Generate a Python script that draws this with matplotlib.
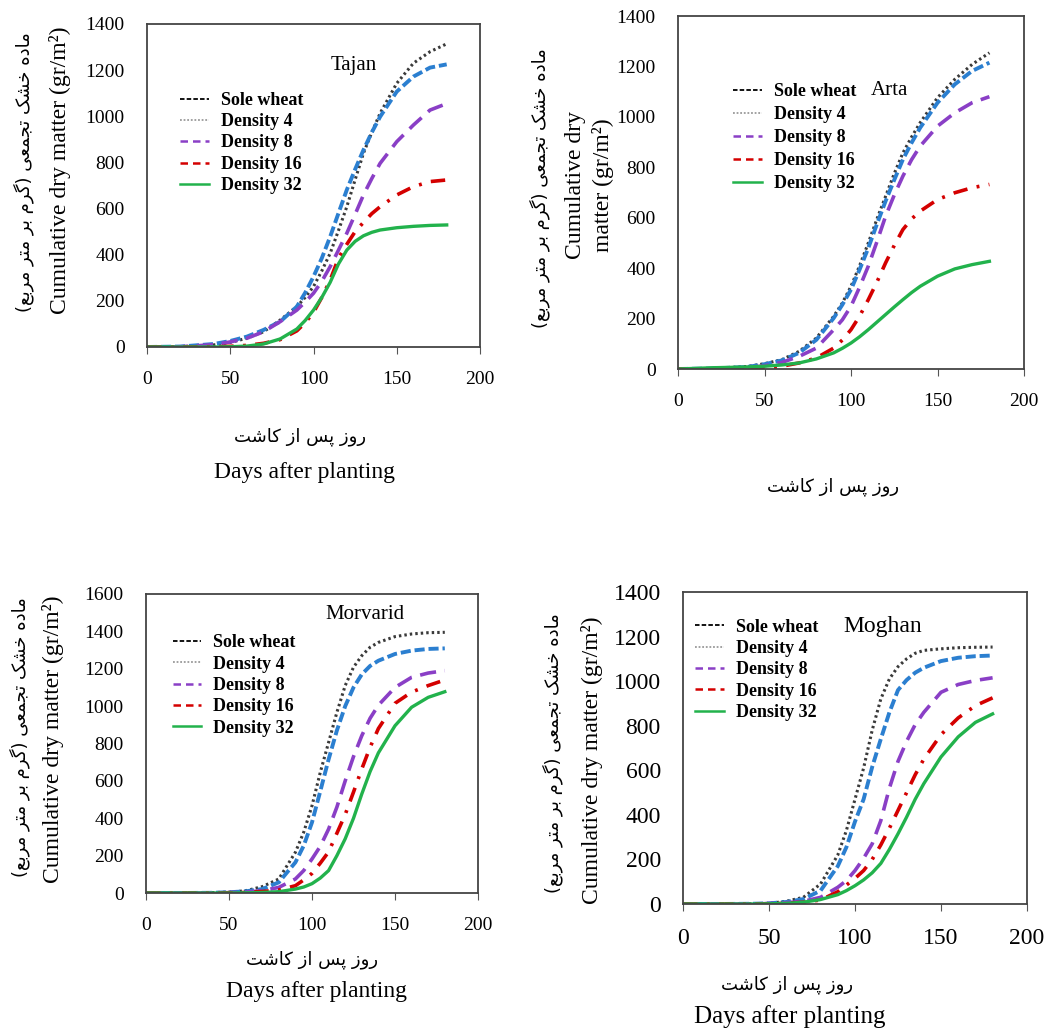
import numpy as np
import matplotlib.pyplot as plt
from matplotlib.lines import Line2D

plt.rcParams['font.family'] = 'Liberation Serif'

# days after planting at which curves were read
days = [0, 20, 40, 50, 60, 70, 80, 90, 95, 100, 105, 110, 115, 120, 125, 130, 135, 140, 150, 160, 170, 180]

names = ['Sole wheat', 'Density 4', 'Density 8', 'Density 16', 'Density 32']

tajan_sole = [0, 1, 9, 20, 38, 66, 117, 175, 215, 262, 330, 406, 505, 608, 725, 840, 930, 1013, 1143, 1230, 1280, 1314]
tajan_d4 = [0, 2, 13, 26, 45, 74, 110, 175, 235, 305, 385, 478, 580, 681, 770, 854, 930, 998, 1107, 1172, 1211, 1225]
tajan_d8 = [0, 1, 10, 22, 38, 66, 110, 160, 195, 233, 285, 348, 420, 493, 575, 659, 730, 796, 890, 962, 1027, 1055]
tajan_d16 = [0, 0, 1, 3, 7, 16, 32, 70, 105, 150, 215, 290, 385, 445, 500, 540, 578, 608, 659, 695, 717, 724]
tajan_d32 = [0, 0, 0, 1, 4, 13, 35, 78, 115, 160, 215, 280, 360, 420, 458, 482, 497, 507, 517, 523, 527, 529]

arta_sole = [0, 2, 10, 21, 37, 70, 123, 209, 262, 328, 410, 500, 595, 685, 775, 857, 920, 977, 1076, 1149, 1208, 1254]
arta_d4 = [0, 2, 8, 19, 34, 64, 116, 202, 255, 315, 395, 480, 575, 666, 750, 831, 897, 957, 1056, 1129, 1182, 1215]
arta_d8 = [0, 1, 5, 13, 26, 50, 83, 156, 195, 249, 325, 408, 505, 606, 690, 765, 830, 884, 963, 1016, 1056, 1080]
arta_d16 = [0, 0, 1, 3, 11, 24, 44, 83, 115, 156, 210, 275, 345, 421, 490, 553, 595, 626, 672, 699, 719, 732]
arta_d32 = [0, 5, 8, 11, 16, 24, 40, 64, 82, 103, 128, 156, 186, 216, 246, 275, 303, 328, 368, 397, 414, 427]

morvarid_sole = [0, 0, 2, 5, 12, 34, 75, 218, 325, 467, 646, 806, 967, 1110, 1208, 1270, 1315, 1341, 1372, 1386, 1393, 1395]
morvarid_d4 = [0, 0, 1, 4, 9, 21, 57, 164, 253, 378, 545, 715, 870, 1000, 1100, 1170, 1215, 1243, 1279, 1297, 1306, 1309]
morvarid_d8 = [0, 0, 0, 2, 5, 12, 30, 75, 120, 182, 250, 342, 460, 600, 730, 842, 935, 1005, 1100, 1154, 1177, 1190]
morvarid_d16 = [0, 0, 0, 1, 3, 8, 16, 39, 70, 105, 160, 220, 320, 420, 540, 664, 780, 880, 1015, 1075, 1110, 1140]
morvarid_d32 = [0, 0, 0, 0, 1, 3, 7, 21, 32, 50, 80, 120, 200, 290, 400, 530, 650, 750, 895, 994, 1047, 1077]

moghan_sole = [0, 0, 1, 3, 12, 30, 90, 220, 330, 470, 610, 780, 920, 1010, 1065, 1100, 1125, 1138, 1145, 1150, 1152, 1153]
moghan_d4 = [0, 0, 1, 3, 9, 22, 60, 170, 255, 370, 470, 615, 740, 860, 960, 1005, 1038, 1060, 1090, 1105, 1112, 1115]
moghan_d8 = [0, 0, 0, 2, 6, 12, 30, 75, 105, 150, 205, 270, 374, 520, 640, 730, 805, 860, 950, 985, 1003, 1015]
moghan_d16 = [0, 0, 0, 1, 3, 8, 18, 55, 85, 115, 150, 200, 265, 340, 420, 500, 580, 650, 760, 835, 890, 925]
moghan_d32 = [0, 0, 0, 1, 3, 8, 20, 42, 60, 82, 108, 140, 182, 245, 315, 390, 470, 540, 660, 750, 815, 853]

fa_ylabel = 'ماده خشک تجمعی (گرم بر متر مربع)'
fa_xlabel = 'روز پس از کاشت'
en_xlabel = 'Days after planting'

# Persian letters -> (isolated, final, initial, medial); two forms = joins only on the right
FORMS = {
    'ا': ('\uFE8D', '\uFE8E'), 'د': ('\uFEA9', '\uFEAA'), 'ر': ('\uFEAD', '\uFEAE'),
    'ز': ('\uFEAF', '\uFEB0'), 'و': ('\uFEED', '\uFEEE'),
    'ب': ('\uFE8F', '\uFE90', '\uFE91', '\uFE92'), 'پ': ('\uFB56', '\uFB57', '\uFB58', '\uFB59'),
    'ت': ('\uFE95', '\uFE96', '\uFE97', '\uFE98'), 'ج': ('\uFE9D', '\uFE9E', '\uFE9F', '\uFEA0'),
    'خ': ('\uFEA5', '\uFEA6', '\uFEA7', '\uFEA8'), 'س': ('\uFEB1', '\uFEB2', '\uFEB3', '\uFEB4'),
    'ش': ('\uFEB5', '\uFEB6', '\uFEB7', '\uFEB8'), 'ع': ('\uFEC9', '\uFECA', '\uFECB', '\uFECC'),
    'ک': ('\uFB8E', '\uFB8F', '\uFB90', '\uFB91'), 'گ': ('\uFB92', '\uFB93', '\uFB94', '\uFB95'),
    'م': ('\uFEE1', '\uFEE2', '\uFEE3', '\uFEE4'), 'ه': ('\uFEE9', '\uFEEA', '\uFEEB', '\uFEEC'),
    'ی': ('\uFBFC', '\uFBFD', '\uFBFE', '\uFBFF'),
}


def shape_fa(text):
    out = []
    for i, c in enumerate(text):
        if c not in FORMS:
            out.append(c)
            continue
        prev = text[i - 1] if i > 0 else ''
        nxt = text[i + 1] if i + 1 < len(text) else ''
        jp = prev in FORMS and len(FORMS[prev]) == 4
        jn = nxt in FORMS and len(FORMS[c]) == 4
        f = FORMS[c]
        if jp and jn:
            out.append(f[3])
        elif jp:
            out.append(f[1])
        elif jn:
            out.append(f[2])
        else:
            out.append(f[0])
    s = ''.join(reversed(out))
    return s.translate(str.maketrans('()', ')('))


W, H = 1051, 1031
fig = plt.figure(figsize=(W / 100, H / 100), dpi=100)


def px(x, y):
    return x / W, 1 - y / H


styles = [
    dict(color='#3a3a3a', lw=2.2, dashes=(0.8, 1.0)),
    dict(color='#2b7fd0', lw=2.8, dashes=(2.6, 1.0)),
    dict(color='#8a3fc6', lw=2.6, dashes=(4.5, 2.4)),
    dict(color='#d40000', lw=2.6, dashes=(4.0, 2.6, 0.8, 2.6)),
    dict(color='#22b24c', lw=2.4, linestyle='-'),
]
leg_handles = [
    Line2D([], [], color='black', lw=1.3, dashes=(2.5, 1.2)),
    Line2D([], [], color='#9a9a9a', lw=1.3, dashes=(1, 1)),
    Line2D([], [], color='#8a3fc6', lw=1.8, dashes=(3, 2)),
    Line2D([], [], color='#d40000', lw=1.8, dashes=(3, 2)),
    Line2D([], [], color='#22b24c', lw=1.8),
]


def panel(box, series, ymax, title, title_xy, leg_xy, fs=14, tfs=15, lsp=0.24):
    l, t, r, b = box
    ax = fig.add_axes([l / W, 1 - b / H, (r - l) / W, (b - t) / H])
    for vals, st in zip(series, styles):
        ax.plot(days, vals, **st)
    ax.set_xlim(0, 200)
    ax.set_ylim(0, ymax)
    ax.set_xticks(range(0, 201, 50))
    ax.set_yticks(range(0, ymax + 1, 200))
    ax.tick_params(axis='x', direction='out', length=5, pad=12, labelsize=fs, color='#555555')
    ax.tick_params(axis='y', length=0, pad=16, labelsize=fs)
    for sp in ax.spines.values():
        sp.set_color('#444444')
        sp.set_linewidth(1.3)
    ax.text(title_xy[0], title_xy[1], title, transform=ax.transAxes, fontsize=tfs,
            ha='center', va='center')
    ax.legend(leg_handles, names, loc='upper left', bbox_to_anchor=leg_xy, frameon=False,
              prop=dict(family='Liberation Serif', weight='bold', size=13),
              handlelength=1.6, handletextpad=0.65, labelspacing=lsp, borderpad=0, borderaxespad=0)
    return ax


panel((147, 24, 480, 347), [tajan_sole, tajan_d4, tajan_d8, tajan_d16, tajan_d32], 1400,
      'Tajan', (0.62, 0.87), (0.10, 0.79))
panel((678, 16, 1024, 369), [arta_sole, arta_d4, arta_d8, arta_d16, arta_d32], 1400,
      'Arta', (0.61, 0.79), (0.16, 0.81), lsp=0.33)
panel((146, 594, 478, 893), [morvarid_sole, morvarid_d4, morvarid_d8, morvarid_d16, morvarid_d32], 1600,
      'Morvarid', (0.66, 0.93), (0.08, 0.865))
panel((683, 592, 1027, 904), [moghan_sole, moghan_d4, moghan_d8, moghan_d16, moghan_d32], 1400,
      'Moghan', (0.58, 0.89), (0.035, 0.915), fs=17, tfs=17)

fa_y = shape_fa(fa_ylabel)
fa_x = shape_fa(fa_xlabel)
fa_font = dict(family=['DejaVu Sans'], fontsize=13)
en_y = 'Cumulative dry matter (gr/m²)'

# Tajan labels
fig.text(*px(24, 172), fa_y, rotation=90, ha='center', va='center', **fa_font)
fig.text(*px(60, 170), en_y, rotation=90, ha='center', va='center', fontsize=17)
fig.text(*px(300, 437), fa_x, ha='center', va='center', **fa_font)
fig.text(*px(304, 473), en_xlabel, ha='center', va='center', fontsize=17)

# Arta labels
fig.text(*px(540, 188), fa_y, rotation=90, ha='center', va='center', **fa_font)
fig.text(*px(575, 185), 'Cumulative dry', rotation=90, ha='center', va='center', fontsize=17)
fig.text(*px(603, 185), 'matter (gr/m²)', rotation=90, ha='center', va='center', fontsize=17)
fig.text(*px(833, 487), fa_x, ha='center', va='center', **fa_font)

# Morvarid labels
fig.text(*px(20, 737), fa_y, rotation=90, ha='center', va='center', **fa_font)
fig.text(*px(53, 739), en_y, rotation=90, ha='center', va='center', fontsize=17)
fig.text(*px(312, 960), fa_x, ha='center', va='center', **fa_font)
fig.text(*px(317, 992), en_xlabel, ha='center', va='center', fontsize=17)

# Moghan labels
fig.text(*px(553, 753), fa_y, rotation=90, ha='center', va='center', **fa_font)
fig.text(*px(592, 760), en_y, rotation=90, ha='center', va='center', fontsize=17)
fig.text(*px(787, 985), fa_x, ha='center', va='center', **fa_font)
fig.text(*px(790, 1017), en_xlabel, ha='center', va='center', fontsize=18)

fig.savefig('out.png', dpi=100)
